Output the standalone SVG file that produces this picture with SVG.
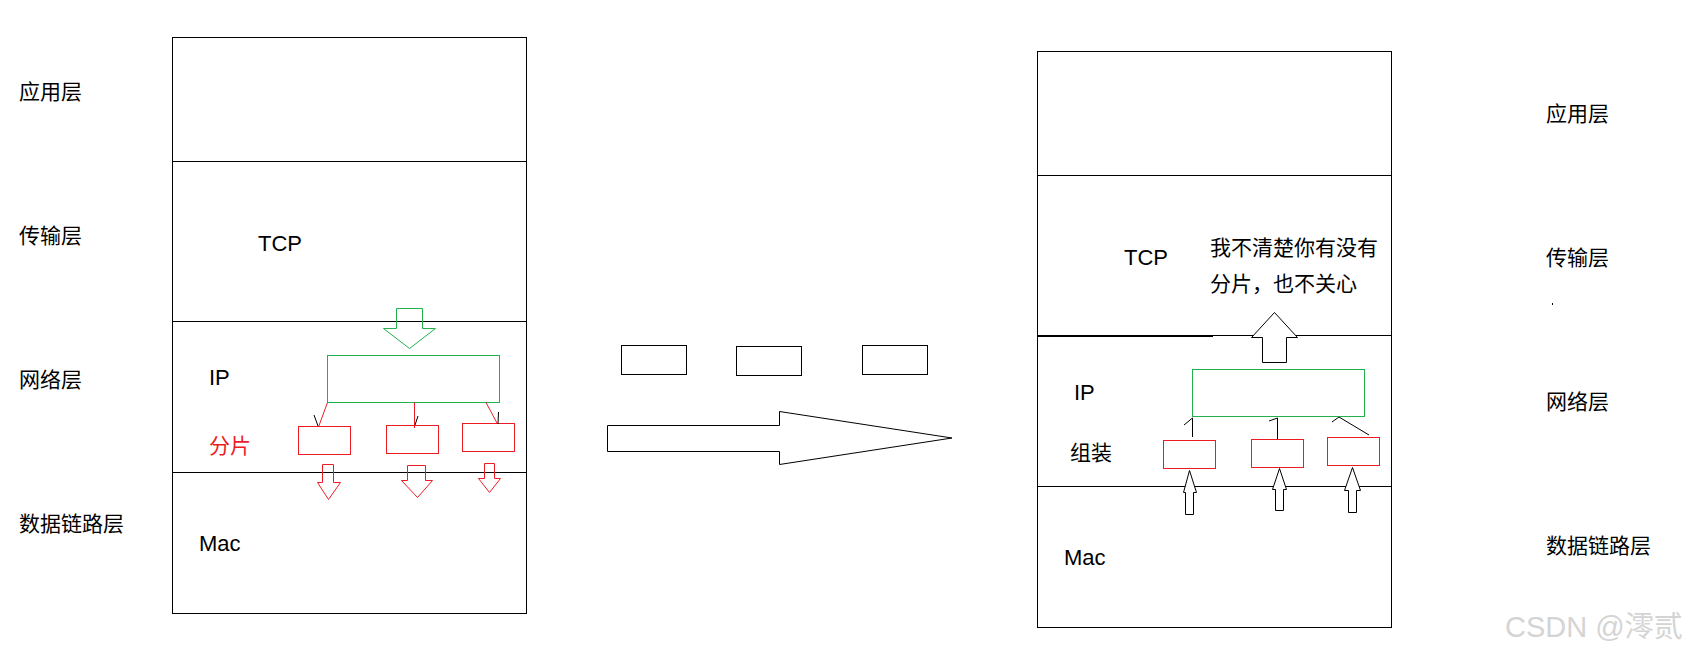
<svg xmlns="http://www.w3.org/2000/svg" width="1692" height="657" viewBox="0 0 1692 657">
<style>
.ln{fill:none;stroke:#000;stroke-width:1}
.g{fill:none;stroke:#22b14c;stroke-width:1}
.r{fill:none;stroke:#ed1c24;stroke-width:1}
.ar{fill:#fff;stroke:#000;stroke-width:1}
.cn{font-family:"Noto Sans CJK SC","Noto Sans",sans-serif;font-size:21px;fill:#000}
.en{font-family:"Liberation Sans","Noto Sans",sans-serif;font-size:22px;fill:#000}
.red{fill:#ed1c24}
.wm{font-family:"Liberation Sans","Noto Sans CJK SC",sans-serif;font-size:29px;fill:#d4d4d4}
</style>
<rect width="1692" height="657" fill="#fff"/>

<g id="left-labels">
<text class="cn" x="19" y="99">应用层</text>
<text class="cn" x="19" y="243">传输层</text>
<text class="cn" x="19" y="387">网络层</text>
<text class="cn" x="19" y="531">数据链路层</text>
</g>

<g id="left-stack">
<rect class="ln" x="172.5" y="37.5" width="354" height="576"/>
<line class="ln" x1="172.5" y1="161.5" x2="526.5" y2="161.5"/>
<line class="ln" x1="172.5" y1="321.5" x2="526.5" y2="321.5"/>
<line class="ln" x1="172.5" y1="472.5" x2="526.5" y2="472.5"/>
<text class="en" x="258" y="251">TCP</text>
<text class="en" x="209" y="385">IP</text>
<text class="cn red" x="209" y="453">分片</text>
<text class="en" x="199" y="551">Mac</text>
</g>

<g id="left-ip-packet">
<rect class="g" x="327.5" y="355.5" width="172" height="47"/>
<polygon class="g" points="396.5,308.5 422.5,308.5 422.5,328.5 435.5,328.5 409.5,348.5 383.5,328.5 396.5,328.5"/>
</g>

<g id="left-fragments">
<rect class="r" x="298.5" y="426.5" width="52" height="28"/>
<rect class="r" x="386.5" y="425.5" width="52" height="28"/>
<rect class="r" x="462.5" y="423.5" width="52" height="28"/>
<polygon class="r" points="322.5,464.5 333.5,464.5 333.5,482.5 340.5,482.5 328.5,499.5 317.5,482.5 322.5,482.5"/>
<polygon class="r" points="407.5,465.5 425.5,465.5 425.5,480.5 432.5,480.5 417.5,497.5 401.5,480.5 407.5,480.5"/>
<polygon class="r" points="484.5,463.5 494.5,463.5 494.5,478.5 500.5,478.5 489.5,492.5 478.5,478.5 484.5,478.5"/>
</g>

<g id="connectors">
<line class="r" x1="327.5" y1="402.5" x2="318.5" y2="427"/>
<line class="ln" x1="314" y1="415" x2="318" y2="426"/>
<line class="r" x1="414.5" y1="402.5" x2="414.5" y2="428"/>
<line class="ln" x1="418" y1="416" x2="415" y2="425"/>
<line class="r" x1="486" y1="402.5" x2="497" y2="423"/>
<line class="ln" x1="498.5" y1="412" x2="498" y2="424"/>
<line class="ln" x1="1192.5" y1="418" x2="1192.5" y2="437"/>
<line class="ln" x1="1184" y1="425" x2="1192.5" y2="418"/>
<line class="ln" x1="1277.5" y1="418" x2="1277.5" y2="439"/>
<line class="ln" x1="1269" y1="421" x2="1277.5" y2="418"/>
<line class="ln" x1="1339" y1="417" x2="1369" y2="435"/>
<line class="ln" x1="1332" y1="422" x2="1339" y2="417"/>
</g>

<g id="middle">
<rect class="ln" x="621.5" y="345.5" width="65" height="29"/>
<rect class="ln" x="736.5" y="346.5" width="65" height="29"/>
<rect class="ln" x="862.5" y="345.5" width="65" height="29"/>
<polygon class="ar" points="607.5,425.5 779.5,425.5 779.5,411.5 952,438 779.5,464.5 779.5,451.5 607.5,451.5"/>
</g>

<g id="right-stack">
<rect class="ln" x="1037.5" y="51.5" width="354" height="576"/>
<line class="ln" x1="1037.5" y1="175.5" x2="1391.5" y2="175.5"/>
<line class="ln" x1="1037.5" y1="335.5" x2="1391.5" y2="335.5"/>
<line x1="1037" y1="336" x2="1213" y2="336" stroke="#000" stroke-width="2"/>
<line class="ln" x1="1037.5" y1="486.5" x2="1391.5" y2="486.5"/>
<text class="en" x="1124" y="265">TCP</text>
<text class="cn" x="1210" y="255">我不清楚你有没有</text>
<text class="cn" x="1210" y="291">分片，也不关心</text>
<text class="en" x="1074" y="400">IP</text>
<text class="cn" x="1070" y="460">组装</text>
<text class="en" x="1064" y="565">Mac</text>
</g>

<g id="right-ip-packet">
<rect class="g" x="1192.5" y="369.5" width="172" height="47"/>
<polygon class="ar" points="1262.5,362.5 1286.5,362.5 1286.5,337.5 1297.5,337.5 1274.5,312.5 1251.5,337.5 1262.5,337.5"/>
</g>

<g id="right-fragments">
<rect class="r" x="1163.5" y="440.5" width="52" height="28"/>
<rect class="r" x="1251.5" y="439.5" width="52" height="28"/>
<rect class="r" x="1327.5" y="437.5" width="52" height="28"/>
<polygon class="ar" points="1185.5,514.5 1193.5,514.5 1193.5,492.5 1196.5,492.5 1189.5,470.5 1183.5,492.5 1185.5,492.5"/>
<polygon class="ar" points="1275.5,510.5 1283.5,510.5 1283.5,489.5 1286.5,489.5 1279.5,468.5 1272.5,489.5 1275.5,489.5"/>
<polygon class="ar" points="1348.5,512.5 1356.5,512.5 1356.5,490.5 1360.5,490.5 1352.5,467.5 1344.5,490.5 1348.5,490.5"/>
</g>

<g id="right-labels">
<text class="cn" x="1546" y="121">应用层</text>
<text class="cn" x="1546" y="265">传输层</text>
<rect x="1552" y="303" width="1" height="2" fill="#000"/>
<text class="cn" x="1546" y="409">网络层</text>
<text class="cn" x="1546" y="553">数据链路层</text>
</g>

<g id="watermark">
<text class="wm" x="1505" y="637">CSDN @澪贰</text>
</g>
</svg>
